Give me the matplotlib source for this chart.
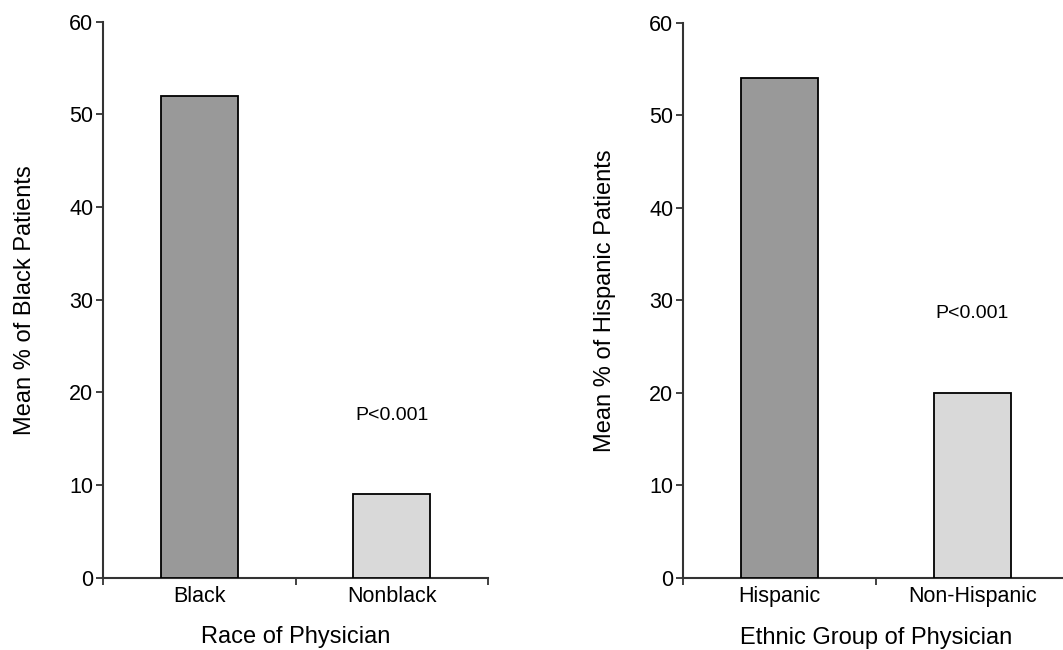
import matplotlib
matplotlib.use("Agg")
import matplotlib.pyplot as plt

plt.rcParams['font.family'] = ['Liberation Sans', 'DejaVu Sans']

left_categories = ["Black", "Nonblack"]
left_values = [52, 9]
left_xlabel = "Race of Physician"
left_ylabel = "Mean % of Black Patients"
left_p_label = "P<0.001"
left_p_y = 17.5

right_categories = ["Hispanic", "Non-Hispanic"]
right_values = [54, 20]
right_xlabel = "Ethnic Group of Physician"
right_ylabel = "Mean % of Hispanic Patients"
right_p_label = "P<0.001"
right_p_y = 28.6

bar_colors = ["#999999", "#d9d9d9"]
y_ticks = [0, 10, 20, 30, 40, 50, 60]

W, H = 1063, 650
fig = plt.figure(figsize=(W / 100, H / 100), dpi=100)

def px_axes(x0, x1, y_top, y_bot):
    return fig.add_axes([x0 / W, 1 - y_bot / H, (x1 - x0) / W, (y_bot - y_top) / H])

ax1 = px_axes(103, 488, 21.7, 577.7)
ax2 = px_axes(683, 1069, 22.7, 578)

panels = [
    (ax1, left_categories, left_values, left_xlabel, left_ylabel, left_p_label, left_p_y),
    (ax2, right_categories, right_values, right_xlabel, right_ylabel, right_p_label, right_p_y),
]

spine_col = "#333333"
for ax, cats, vals, xl, yl, pl, py in panels:
    xs = list(range(len(cats)))
    ax.bar(xs, vals, width=0.4, color=bar_colors, edgecolor="black", linewidth=1.3, zorder=3)
    ax.set_xlim(-0.5, len(cats) - 0.5)
    ax.set_ylim(0, 60)
    ax.set_yticks(y_ticks)
    ax.set_yticklabels([str(t) for t in y_ticks], fontsize=15.5)
    ax.set_xticks([i - 0.5 for i in range(len(cats) + 1)])
    ax.set_xticklabels([])
    ax.set_xticks(xs, minor=True)
    ax.set_xticklabels(cats, minor=True, fontsize=15.5)
    ax.tick_params(axis='x', which='minor', length=0, pad=6)
    ax.tick_params(axis='x', which='major', length=5, width=1.3, color=spine_col)
    ax.tick_params(axis='y', length=5, width=1.3, color=spine_col, pad=2)
    for s in ["top", "right"]:
        ax.spines[s].set_visible(False)
    for s in ["left", "bottom"]:
        ax.spines[s].set_linewidth(1.5)
        ax.spines[s].set_color(spine_col)
    ax.set_xlabel(xl, fontsize=17, labelpad=14)
    ax.set_ylabel(yl, fontsize=17, labelpad=24)
    ax.text(xs[-1], py, pl, ha="center", va="center", fontsize=14)

fig.savefig("out.png", dpi=100)
